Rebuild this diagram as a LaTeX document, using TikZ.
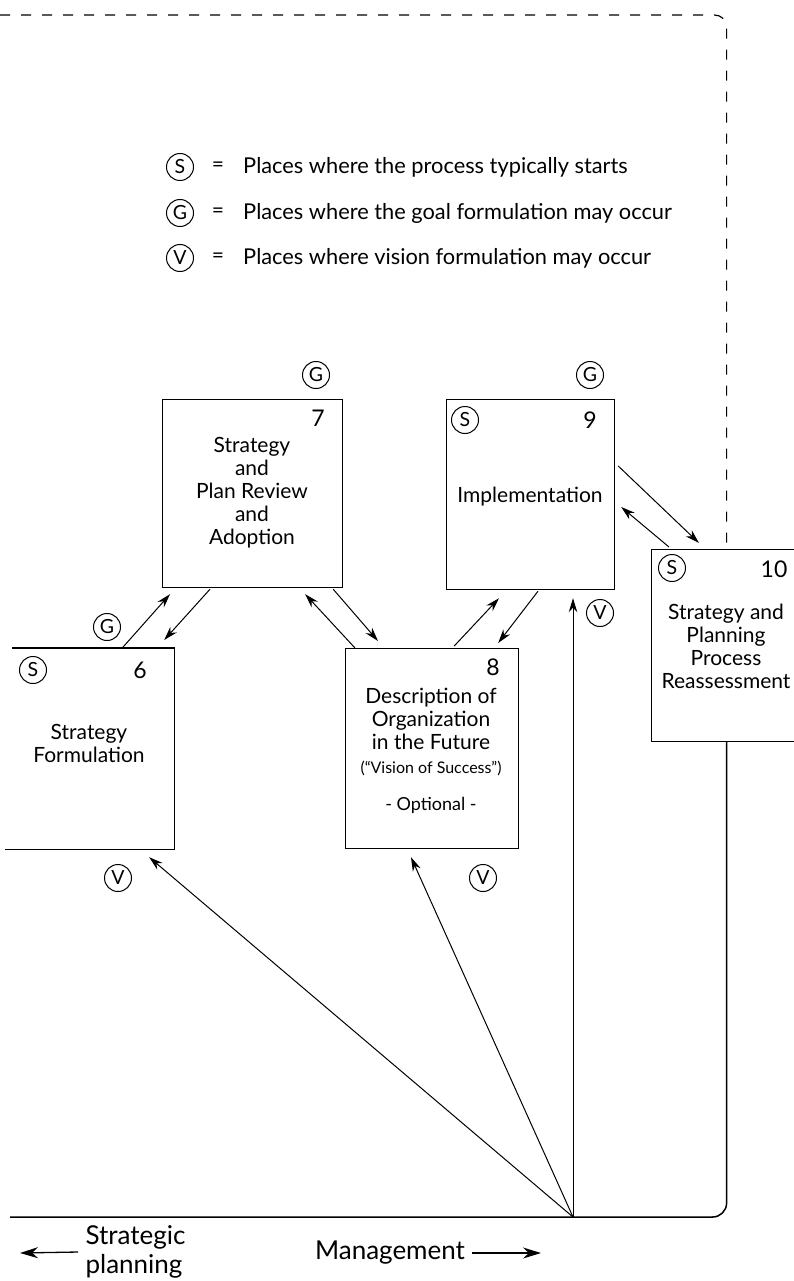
\documentclass[tikz,border=0pt]{standalone}
\usepackage{fontspec}
\setmainfont{Lato}
\usetikzlibrary{arrows.meta,calc}

\begin{document}
\begin{tikzpicture}[x=1pt,y=-1pt,
  box/.style={line width=1.2pt,inner sep=0pt,anchor=north west},
  txt/.style={align=center,font=\fontsize{21}{23}\selectfont},
  leg/.style={anchor=west,inner sep=0pt,font=\fontsize{21.8}{23}\selectfont},
  circ/.style={draw,circle,line width=1pt,inner sep=0pt,minimum size=27pt,font=\fontsize{19.5}{19.5}\selectfont},
  num/.style={font=\fontsize{23}{23}\selectfont},
  arr/.style={line width=1pt,-{Stealth[length=14pt,width=8.5pt]}},
  bigarr/.style={line width=1.3pt,-{Stealth[length=18pt,width=11pt]}}]
  \useasboundingbox (0,0) rectangle (793,1281);
  % legend
  \foreach \y/\l/\t in {167/S/Places where the process typically starts,
      213/G/Places where the goal formulation may occur,
      258/V/Places where vision formulation may occur}{
    \node[circ] (key\l) at (180,\y) {\l};
    \node[txt] (eq\l) at (218,\y) {=};
    \node[leg] (leg\l) at (243,\y) {\t};
  }
  % boxes
  \node[box,minimum width=168pt,minimum height=200pt] (b6) at (5,648) {};
  \draw[line width=1.2pt] ($(b6.north west)+(7,0)$) -- (b6.north east) -- (b6.south east) -- (b6.south west);
  \node[box,draw,minimum width=180pt,minimum height=188pt] (b7) at (162,399) {};
  \node[box,draw,minimum width=173pt,minimum height=200pt] (b8) at (345,648) {};
  \node[box,draw,minimum width=168pt,minimum height=190pt] (b9) at (446,399) {};
  \node[box,draw,minimum width=150pt,minimum height=192pt] (b10) at (651,549) {};
  \node[txt] (t6) at (89,743) {Strategy\\Formulation};
  \node[txt] (t7) at (252,493) {Strategy\\and\\Plan Review\\and\\Adoption};
  \node[txt] (t8) at (431,719) {Description of\\Organization\\in the Future};
  \node[font=\fontsize{16}{16}\selectfont] (t8v) at (431,768) {(“Vision of Success”)};
  \node[font=\fontsize{18}{18}\selectfont] (t8o) at (431,805) {- Optional -};
  \node[txt] (t9) at (530,497) {Implementation};
  \node[txt] (t10) at (726,646) {Strategy and\\Planning\\Process\\Reassessment};
  \node[num] (n6) at (140,670) {6};
  \node[num] (n7) at (318,418) {7};
  \node[num] (n8) at (493,667) {8};
  \node[num] (n9) at (590,420) {9};
  \node[num] (n10) at (774,569) {10};
  % markers
  \node[circ] (s6) at (33,670) {S};
  \node[circ] (s9) at (465,420) {S};
  \node[circ] (s10) at (672,568) {S};
  \node[circ] (g6) at (107,627) {G};
  \node[circ] (g7) at (316,375) {G};
  \node[circ] (g9) at (590,375) {G};
  \node[circ] (v6) at (118,878) {V};
  \node[circ] (v8) at (483,878) {V};
  \node[circ] (v9) at (600,613) {V};
  % arrows between boxes
  \draw[arr] ($(b6.north east)+(-52,0)$) -- ($(b7.south west)+(8,6)$);
  \draw[arr] ($(b7.south west)+(48,1)$) -- ($(b6.north east)+(-10,-8)$);
  \draw[arr] ($(b8.north west)+(10,0)$) -- ($(b7.south east)+(-38,6)$);
  \draw[arr] ($(b7.south east)+(-10,1)$) -- ($(b8.north west)+(33,-7)$);
  \draw[arr] ($(b8.north east)+(-65,-2)$) -- ($(b9.south west)+(53,8)$);
  \draw[arr] ($(b9.south west)+(92,1)$) -- ($(b8.north east)+(-21,-5)$);
  \draw[arr] ($(b9.north east)+(3,67)$) -- ($(b10.north west)+(48,-6)$);
  \draw[arr] ($(b10.north west)+(18,-2)$) -- ($(b9.north east)+(6,108)$);
  % fan from the management line
  \coordinate (f) at (573,1217);
  \draw[arr] (f) -- ($(b9.south -| f)+(0,8)$);
  \draw[arr] (f) -- ($(b8.south west)+(66,8)$);
  \draw[arr] (f) -- ($(b6.south east)+(-25,8)$);
  % frame
  \coordinate (tl) at (0,15);
  \coordinate (bl) at (10,1217);
  \draw[line width=1.2pt,dash pattern=on 10pt off 11pt,rounded corners=12pt]
    (tl) -- (b10.north |- tl) -- ($(b10.north)+(0,-6)$);
  \draw[line width=1.5pt,rounded corners=14pt] (b10.south) -- (b10.south |- bl) -- (bl);
  % bottom labels
  \coordinate (spl) at (20,1253);
  \coordinate (mgr) at (541,1253);
  \node[anchor=west,align=left,font=\fontsize{26}{29}\selectfont] (sp) at (82,1252) {Strategic\\planning};
  \node[font=\fontsize{26}{26}\selectfont] (mg) at (390,1253) {Management};
  \draw[bigarr] ([xshift=-4pt]sp.west) -- (spl);
  \draw[bigarr] ([xshift=4pt]mg.east) -- (mgr);
\end{tikzpicture}
\end{document}
